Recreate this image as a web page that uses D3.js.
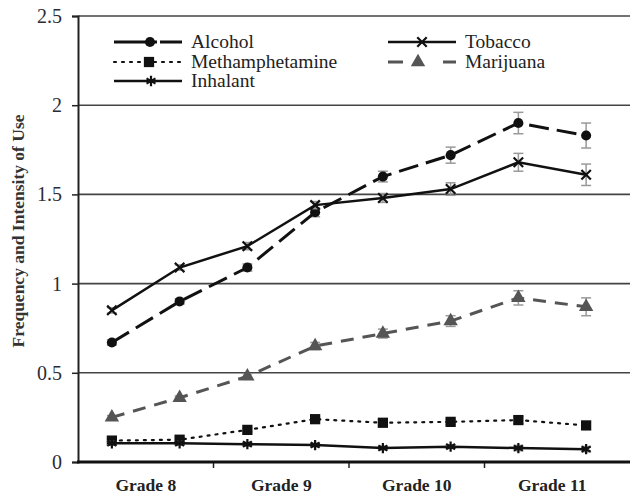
<!DOCTYPE html>
<html>
<head>
<meta charset="utf-8">
<script src="https://cdn.jsdelivr.net/npm/d3@7"></script>
<style>
    body { margin: 0; background: #fff; }
    svg text { font-family: "Liberation Serif", "Times New Roman", Times, serif; }
</style>
</head>
<body>
<div id="viz"></div>
<script>
    // grades on the x axis, two measurement waves per grade
    const grades = ["Grade 8", "Grade 9", "Grade 10", "Grade 11"];
    const waves = [0, 1];
    const yTicks = [0, 0.5, 1, 1.5, 2, 2.5];

    // mean values per wave (8 waves)
    const alcohol = [0.67, 0.90, 1.09, 1.40, 1.60, 1.72, 1.90, 1.83];
    const tobacco = [0.85, 1.09, 1.21, 1.44, 1.48, 1.53, 1.68, 1.61];
    const methamphetamine = [0.12, 0.125, 0.18, 0.24, 0.22, 0.225, 0.235, 0.205];
    const marijuana = [0.25, 0.36, 0.48, 0.65, 0.72, 0.79, 0.92, 0.87];
    const inhalant = [0.105, 0.105, 0.10, 0.095, 0.078, 0.086, 0.078, 0.072];

    // standard errors
    const alcoholErr = [0.015, 0.015, 0.02, 0.025, 0.03, 0.045, 0.06, 0.07];
    const tobaccoErr = [0.015, 0.015, 0.02, 0.02, 0.025, 0.035, 0.05, 0.06];
    const methErr = [0.01, 0.01, 0.01, 0.015, 0.015, 0.015, 0.02, 0.02];
    const marijuanaErr = [0.01, 0.01, 0.015, 0.02, 0.025, 0.03, 0.04, 0.05];
    const inhalantErr = [0.01, 0.01, 0.01, 0.01, 0.01, 0.01, 0.015, 0.015];

    const width = 630;
    const height = 495;
    const margin = { top: 16, right: 10, bottom: 33, left: 78 };
    const serif = '"Liberation Serif", "Times New Roman", Times, serif';

    const series = [
        { name: "Alcohol", values: alcohol, err: alcoholErr, color: "#111", dash: "20,8", legendDash: "43,3,30", lw: 3, symbol: "circle" },
        { name: "Tobacco", values: tobacco, err: tobaccoErr, color: "#111", dash: null, legendDash: null, lw: 2.5, symbol: "times" },
        { name: "Methamphetamine", values: methamphetamine, err: methErr, color: "#111", dash: "2,6", legendDash: "2,6", lw: 2.2, symbol: "square" },
        { name: "Marijuana", values: marijuana, err: marijuanaErr, color: "#555", dash: "13,9", legendDash: "15,40,15", lw: 3, symbol: "triangle" },
        { name: "Inhalant", values: inhalant, err: inhalantErr, color: "#111", dash: null, legendDash: null, lw: 2.5, symbol: "asterisk" }
    ];

    const svg = d3.select("#viz")
        .append("svg")
        .attr("width", width)
        .attr("height", height)
        .attr("font-family", serif);

    const x = d3.scaleBand()
        .domain(grades)
        .range([margin.left, width - margin.right]);

    const xInner = d3.scalePoint()
        .domain(waves)
        .range([0, x.bandwidth()])
        .padding(0.5);

    const xPos = i => x(grades[Math.floor(i / 2)]) + xInner(waves[i % 2]);

    const y = d3.scaleLinear()
        .domain([0, 2.5])
        .range([height - margin.bottom, margin.top]);

    // gridlines
    svg.append("g")
        .selectAll("line")
        .data(yTicks.filter(d => d > 0))
        .join("line")
        .attr("x1", margin.left)
        .attr("x2", width)
        .attr("y1", d => y(d))
        .attr("y2", d => y(d))
        .attr("stroke", "#444")
        .attr("stroke-width", 1.6);

    // y axis
    const yAxisG = svg.append("g")
        .attr("transform", `translate(${margin.left},0)`)
        .call(d3.axisLeft(y).tickValues(yTicks).tickSize(6).tickPadding(10).tickFormat(d => d))
        .attr("font-family", serif);
    yAxisG.select(".domain").attr("stroke", "#222").attr("stroke-width", 2);
    yAxisG.selectAll(".tick line").attr("stroke", "#222").attr("stroke-width", 1.5);
    yAxisG.selectAll(".tick text")
        .attr("fill", "#2b2b35")
        .attr("font-size", 20);

    // x axis
    const xAxisG = svg.append("g")
        .attr("transform", `translate(0,${height - margin.bottom})`)
        .call(d3.axisBottom(x).tickSize(0).tickPadding(17))
        .attr("font-family", serif);
    xAxisG.select(".domain").remove();
    xAxisG.selectAll(".tick text")
        .attr("fill", "#222")
        .attr("font-size", 17.5)
        .attr("font-weight", "bold");

    xAxisG.append("g")
        .selectAll("line")
        .data(grades.slice(1))
        .join("line")
        .attr("x1", d => x(d))
        .attr("x2", d => x(d))
        .attr("y1", 0)
        .attr("y2", 6)
        .attr("stroke", "#222")
        .attr("stroke-width", 1.5);

    xAxisG.append("line")
        .attr("x1", margin.left - 1)
        .attr("x2", width)
        .attr("stroke", "#111")
        .attr("stroke-width", 3);

    // y axis title
    svg.append("text")
        .attr("transform", `translate(24,${(margin.top + height - margin.bottom) / 2 - 8}) rotate(-90)`)
        .attr("text-anchor", "middle")
        .attr("fill", "#333")
        .attr("font-size", 17.5)
        .attr("font-weight", "bold")
        .text("Frequency and Intensity of Use");

    function symbolType(name) {
        if (name === "circle") return d3.symbolCircle;
        if (name === "square") return d3.symbolSquare;
        if (name === "triangle") return d3.symbolTriangle;
        if (name === "times") return d3.symbolTimes || d3.symbolX;
        return d3.symbolAsterisk;
    }

    function symbolSize(name) {
        if (name === "circle") return 80;
        if (name === "square") return 105;
        if (name === "triangle") return 90;
        if (name === "times") return 60;
        return 75;
    }

    function drawMarker(g, s) {
        const filled = s.symbol === "circle" || s.symbol === "square" || s.symbol === "triangle";
        g.attr("d", d3.symbol().type(symbolType(s.symbol)).size(symbolSize(s.symbol)))
            .attr("fill", filled ? s.color : "none")
            .attr("stroke", s.color)
            .attr("stroke-width", filled ? 0 : 2.2);
    }

    const line = d3.line()
        .x((d, i) => xPos(i))
        .y(d => y(d));

    const chartBody = svg.append("g");

    series.forEach(s => {
        const g = chartBody.append("g");

        // error bars
        const eb = g.append("g").attr("stroke", "#999").attr("stroke-width", 1.5);
        s.values.forEach((v, i) => {
            const lo = y(v - s.err[i]);
            const hi = y(v + s.err[i]);
            const cx = xPos(i);
            eb.append("line").attr("x1", cx).attr("x2", cx).attr("y1", lo).attr("y2", hi);
            eb.append("line").attr("x1", cx - 5).attr("x2", cx + 5).attr("y1", lo).attr("y2", lo);
            eb.append("line").attr("x1", cx - 5).attr("x2", cx + 5).attr("y1", hi).attr("y2", hi);
        });

        g.append("path")
            .attr("d", line(s.values))
            .attr("fill", "none")
            .attr("stroke", s.color)
            .attr("stroke-width", s.lw)
            .attr("stroke-dasharray", s.dash)
            .attr("stroke-linecap", s.dash === "2,6" ? "round" : "butt");

        g.selectAll(".marker")
            .data(s.values)
            .join("path")
            .attr("class", "marker")
            .attr("transform", (d, i) => `translate(${xPos(i)},${y(d)})`)
            .call(sel => drawMarker(sel, s));
    });

    // legend
    const legendItems = [
        { s: series[0], x: 114, y: 42, mx: 36 },
        { s: series[2], x: 114, y: 62, mx: 35 },
        { s: series[4], x: 114, y: 81, mx: 37 },
        { s: series[1], x: 388, y: 42, mx: 34 },
        { s: series[3], x: 388, y: 62, mx: 30 }
    ];
    const legendLen = 68;

    const legend = svg.append("g");
    legendItems.forEach(({ s, x: lx, y: ly, mx }) => {
        const lg = legend.append("g").attr("transform", `translate(${lx},${ly})`);
        lg.append("line")
            .attr("x1", 0)
            .attr("x2", legendLen)
            .attr("stroke", s.color)
            .attr("stroke-width", s.lw)
            .attr("stroke-dasharray", s.legendDash)
            .attr("stroke-linecap", s.dash === "2,6" ? "round" : "butt");
        lg.append("path")
            .attr("transform", `translate(${mx},0)`)
            .call(sel => drawMarker(sel, s));
        lg.append("text")
            .attr("x", legendLen + 9)
            .attr("dy", "0.33em")
            .attr("fill", "#222")
            .attr("font-size", 19.5)
            .text(s.name);
    });
</script>
</body>
</html>
